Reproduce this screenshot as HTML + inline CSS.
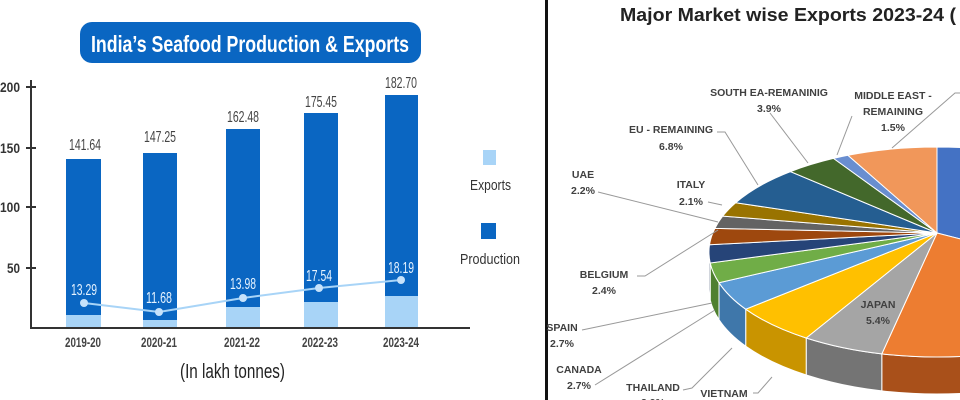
<!DOCTYPE html>
<html><head><meta charset="utf-8"><style>
html,body{margin:0;padding:0;background:#fff;}
svg{display:block;}
.n{font-family:"Liberation Sans",sans-serif;}
.p{font-family:"Liberation Sans",sans-serif;font-weight:bold;font-size:10.5px;fill:#404040;text-anchor:middle;}
</style></head><body>
<svg width="960" height="400" viewBox="0 0 960 400" xmlns="http://www.w3.org/2000/svg">
<rect width="960" height="400" fill="#fff"/>
<rect x="80" y="22" width="341" height="41" rx="12" fill="#0a66c2"/>
<text x="91" y="52" class="n" font-size="23" font-weight="bold" fill="#fff" textLength="318" lengthAdjust="spacingAndGlyphs">India’s Seafood Production &amp; Exports</text>
<g class="n" font-size="14" font-weight="bold" fill="#333">
<text x="0" y="92" textLength="20" lengthAdjust="spacingAndGlyphs">200</text>
<text x="0" y="153" textLength="20" lengthAdjust="spacingAndGlyphs">150</text>
<text x="0" y="212" textLength="20" lengthAdjust="spacingAndGlyphs">100</text>
<text x="7" y="273" textLength="13" lengthAdjust="spacingAndGlyphs">50</text>
</g>
<g stroke="#333" stroke-width="2">
<line x1="31" y1="80" x2="31" y2="329"/>
<line x1="30" y1="328" x2="470" y2="328"/>
<line x1="26" y1="87" x2="36" y2="87"/><line x1="26" y1="148" x2="36" y2="148"/>
<line x1="26" y1="207" x2="36" y2="207"/><line x1="26" y1="268" x2="36" y2="268"/>
</g>
<g fill="#0a66c2">
<rect x="66" y="159" width="35" height="168"/>
<rect x="143" y="153" width="34" height="174"/>
<rect x="226" y="129" width="34" height="198"/>
<rect x="304" y="113" width="34" height="214"/>
<rect x="385" y="95" width="33" height="232"/>
</g>
<g fill="#a8d4f7">
<rect x="66" y="315" width="35" height="12"/>
<rect x="143" y="320" width="34" height="7"/>
<rect x="226" y="307" width="34" height="20"/>
<rect x="304" y="302" width="34" height="25"/>
<rect x="385" y="296" width="33" height="31"/>
</g>
<polyline points="84,303 159,312 243,298 319,288 401,280" fill="none" stroke="#a8d4f7" stroke-width="2"/>
<g fill="#c6e2fb">
<circle cx="84" cy="303" r="4"/><circle cx="159" cy="312" r="4"/><circle cx="243" cy="298" r="4"/><circle cx="319" cy="288" r="4"/><circle cx="401" cy="280" r="4"/>
</g>
<g class="n" font-size="16" fill="#444">
<text x="69" y="150" textLength="32" lengthAdjust="spacingAndGlyphs">141.64</text>
<text x="144" y="142" textLength="32" lengthAdjust="spacingAndGlyphs">147.25</text>
<text x="227" y="122" textLength="32" lengthAdjust="spacingAndGlyphs">162.48</text>
<text x="305" y="107" textLength="32" lengthAdjust="spacingAndGlyphs">175.45</text>
<text x="385" y="88" textLength="32" lengthAdjust="spacingAndGlyphs">182.70</text>
</g>
<g class="n" font-size="16" fill="#e6f3ff">
<text x="71" y="295" textLength="26" lengthAdjust="spacingAndGlyphs">13.29</text>
<text x="146" y="303" textLength="26" lengthAdjust="spacingAndGlyphs">11.68</text>
<text x="230" y="289" textLength="26" lengthAdjust="spacingAndGlyphs">13.98</text>
<text x="306" y="281" textLength="26" lengthAdjust="spacingAndGlyphs">17.54</text>
<text x="388" y="273" textLength="26" lengthAdjust="spacingAndGlyphs">18.19</text>
</g>
<g class="n" font-size="14" font-weight="bold" fill="#444">
<text x="65" y="347" textLength="36" lengthAdjust="spacingAndGlyphs">2019-20</text>
<text x="141" y="347" textLength="36" lengthAdjust="spacingAndGlyphs">2020-21</text>
<text x="224" y="347" textLength="36" lengthAdjust="spacingAndGlyphs">2021-22</text>
<text x="302" y="347" textLength="36" lengthAdjust="spacingAndGlyphs">2022-23</text>
<text x="383" y="347" textLength="36" lengthAdjust="spacingAndGlyphs">2023-24</text>
</g>
<text x="180" y="378" class="n" font-size="20" fill="#222" textLength="105" lengthAdjust="spacingAndGlyphs">(In lakh tonnes)</text>
<rect x="483" y="150" width="13" height="15" fill="#a8d4f7"/>
<text x="470" y="190" class="n" font-size="15" fill="#333" textLength="41" lengthAdjust="spacingAndGlyphs">Exports</text>
<rect x="481" y="223" width="15" height="16" fill="#0a66c2"/>
<text x="460" y="264" class="n" font-size="15" fill="#333" textLength="60" lengthAdjust="spacingAndGlyphs">Production</text>
<rect x="545" y="0" width="3" height="400" fill="#111"/>
<g stroke="#fff" stroke-width="1">
<path d="M1165,252 A228,105 0 0 1 1151.3,287.9 L1151.3,324.9 A228,105 0 0 0 1165,289 Z" fill="#2f5597"/>
<path d="M1151.3,287.9 A228,105 0 0 1 881.8,353.9 L881.8,390.9 A228,105 0 0 0 1151.3,324.9 Z" fill="#a9501a"/>
<path d="M881.8,353.9 A228,105 0 0 1 806.2,338 L806.2,375 A228,105 0 0 0 881.8,390.9 Z" fill="#747474"/>
<path d="M806.2,338 A228,105 0 0 1 745.7,309.2 L745.7,346.2 A228,105 0 0 0 806.2,375 Z" fill="#c99400"/>
<path d="M745.7,309.2 A228,105 0 0 1 719,282.7 L719,319.7 A228,105 0 0 0 745.7,346.2 Z" fill="#3f77aa"/>
<path d="M719,282.7 A228,105 0 0 1 710.2,263 L710.2,300 A228,105 0 0 0 719,319.7 Z" fill="#4f8030"/>
<path d="M710.2,263 A228,105 0 0 1 709,252 L709,289 A228,105 0 0 0 710.2,300 Z" fill="#1a3055"/>
</g>
<g stroke="#fff" stroke-width="1">
<path d="M937,233 L937,147 A228,105 0 0 1 1151.3,287.9 Z" fill="#4472c4"/>
<path d="M937,233 L1151.3,287.9 A228,105 0 0 1 881.8,353.9 Z" fill="#ed7d31"/>
<path d="M937,233 L881.8,353.9 A228,105 0 0 1 806.2,338 Z" fill="#a5a5a5"/>
<path d="M937,233 L806.2,338 A228,105 0 0 1 745.7,309.2 Z" fill="#ffc000"/>
<path d="M937,233 L745.7,309.2 A228,105 0 0 1 719,282.7 Z" fill="#5b9bd5"/>
<path d="M937,233 L719,282.7 A228,105 0 0 1 710.2,263 Z" fill="#70ad47"/>
<path d="M937,233 L710.2,263 A228,105 0 0 1 709.5,244.7 Z" fill="#264478"/>
<path d="M937,233 L709.5,244.7 A228,105 0 0 1 714.9,228.4 Z" fill="#9e480e"/>
<path d="M937,233 L714.9,228.4 A228,105 0 0 1 722.7,216.1 Z" fill="#636363"/>
<path d="M937,233 L722.7,216.1 A228,105 0 0 1 735.7,202.7 Z" fill="#997300"/>
<path d="M937,233 L735.7,202.7 A228,105 0 0 1 790.4,171.6 Z" fill="#255e91"/>
<path d="M937,233 L790.4,171.6 A228,105 0 0 1 833.5,158.4 Z" fill="#43682b"/>
<path d="M937,233 L833.5,158.4 A228,105 0 0 1 847.9,155.3 Z" fill="#698ed0"/>
<path d="M937,233 L847.9,155.3 A228,105 0 0 1 937,147 Z" fill="#f1975a"/>
</g>
<text x="620" y="21" font-family="Liberation Sans,sans-serif" font-weight="bold" font-size="18" fill="#222" textLength="336" lengthAdjust="spacingAndGlyphs">Major Market wise Exports 2023-24 (</text>
<g stroke="#999" stroke-width="1" fill="none">
<polyline points="770,113 808,163"/>
<polyline points="852,116 837,155"/>
<polyline points="960,93 955,93 892,148"/>
<polyline points="717,132 725,132 758,185"/>
<polyline points="598,192 718,222"/>
<polyline points="708,202 722,205"/>
<polyline points="637,276 645,276 718,230"/>
<polyline points="582,330 712,303"/>
<polyline points="595,385 715,310"/>
<polyline points="683,390 692,388 732,348"/>
<polyline points="753,393 758,393 772,377"/>
</g>
<text class="p" x="769" y="96">SOUTH EA-REMANINIG</text><text class="p" x="769" y="112">3.9%</text>
<text class="p" x="893" y="99">MIDDLE EAST -</text><text class="p" x="893" y="115">REMAINING</text><text class="p" x="893" y="131">1.5%</text>
<text class="p" x="671" y="133">EU - REMAINING</text><text class="p" x="671" y="150">6.8%</text>
<text class="p" x="583" y="178">UAE</text><text class="p" x="583" y="194">2.2%</text>
<text class="p" x="691" y="188">ITALY</text><text class="p" x="691" y="205">2.1%</text>
<text class="p" x="604" y="278">BELGIUM</text><text class="p" x="604" y="294">2.4%</text>
<text class="p" x="562" y="331">SPAIN</text><text class="p" x="562" y="347">2.7%</text>
<text class="p" x="579" y="373">CANADA</text><text class="p" x="579" y="389">2.7%</text>
<text class="p" x="653" y="391">THAILAND</text><text class="p" x="653" y="406">3.9%</text>
<text class="p" x="724" y="397">VIETNAM</text>
<text class="p" x="878" y="308">JAPAN</text><text class="p" x="878" y="324">5.4%</text>
</svg>
</body></html>
